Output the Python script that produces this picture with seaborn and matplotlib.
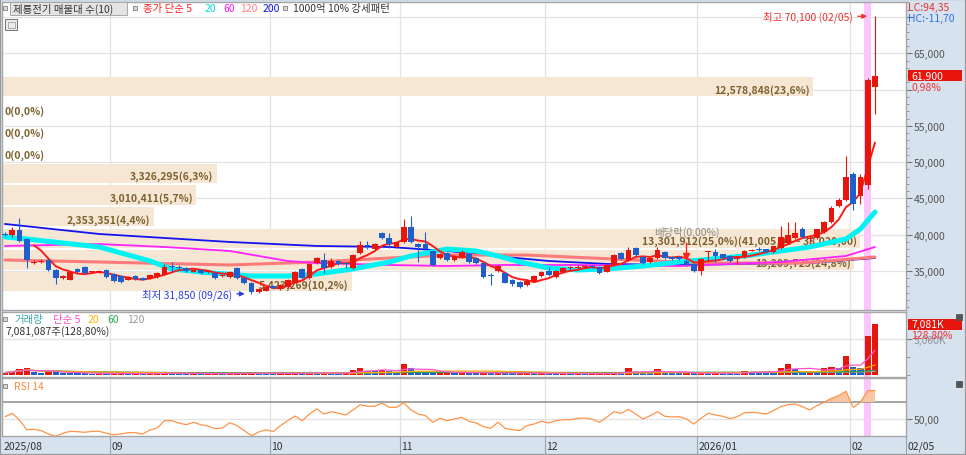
import numpy as np
import pandas as pd
import matplotlib
matplotlib.use('Agg')
import matplotlib.pyplot as plt
import seaborn as sns
from matplotlib.patches import Rectangle
from matplotlib.ticker import MultipleLocator

sns.set_theme(style="white")
plt.rcParams['font.family'] = ['Noto Sans CJK KR', 'DejaVu Sans']
plt.rcParams['axes.unicode_minus'] = False

# ---------------- data ----------------
stock_name = '제룡전기'
first_month = '2025/08'
month_starts = [15, 37, 55, 75, 96, 117]
month_labels = ['09', '10', '11', '12', '2026/01', '02']
last_date = '02/05'
low_date = '09/26'
div_idx = 94          # 배당락 day

opens = [40100, 39900, 40700, 39400, 36150, 36200, 36500, 35150, 34100, 33800,
         35250, 35550, 34800, 34850, 35150, 34600, 34300, 33750, 34300, 34100,
         34050, 34200, 34450, 35600, 35500, 35400, 34900, 35150, 34800, 34750,
         34250, 34200, 35400, 34050, 33400, 32150, 32300, 33000, 32550, 32800,
         33350, 35250, 34050, 36100, 36500, 35550, 36350, 36000, 35400, 37450,
         38500, 38000, 40200, 39500, 38300, 38950, 41050, 38700, 38700, 37750,
         36800, 37450, 36500, 36900, 37350, 36800, 36100, 34400, 35000, 34750,
         33750, 33500, 33100, 33650, 34300, 35000, 34200, 34850, 35350, 35450,
         35550, 35650, 35550, 34850, 35800, 37450, 36500, 38150, 36900, 36300,
         36800, 37600, 36900, 36900, 36400, 35950, 35000, 37550, 37600, 37300,
         37050, 36700, 36900, 37800, 38000, 38000, 37600, 38150, 38850, 39500,
         40750, 39350, 39500, 40350, 41700, 43900, 44750, 48400, 45400, 46800,
         60400]
highs = [40400, 41000, 42250, 39600, 36500, 36700, 36600, 35300, 34400, 35000,
         35400, 35700, 35050, 35100, 35250, 34700, 34450, 34300, 34500, 34200,
         34550, 34800, 35950, 36200, 35800, 35600, 35300, 35250, 35000, 34850,
         34500, 35000, 35600, 34100, 33500, 32700, 33000, 33100, 33200, 33900,
         35000, 35400, 36100, 36900, 37450, 36800, 36500, 36200, 37300, 39200,
         39200, 38850, 40350, 40200, 39100, 42100, 42550, 38850, 40350, 37900,
         37500, 37600, 37200, 37900, 37500, 36900, 36200, 34750, 35800, 34850,
         33900, 33600, 33750, 34450, 35000, 35500, 35100, 35500, 35700, 35800,
         35800, 35800, 35650, 35950, 37300, 37600, 38300, 38300, 37000, 36900,
         38300, 37700, 37000, 37000, 37650, 36050, 36750, 37700, 38000, 37400,
         37150, 36900, 37850, 38050, 38300, 38100, 38500, 41150, 41700, 41700,
         41000, 39800, 40850, 41850, 43900, 45000, 50900, 48700, 48300, 61600,
         70100]
lows = [39800, 39700, 39000, 35400, 36000, 36050, 35000, 33200, 33900, 33700,
        34700, 34600, 34700, 34750, 34100, 33500, 33300, 33700, 33800, 33700,
        33950, 34100, 34400, 34900, 35100, 34900, 34800, 34650, 34700, 33950,
        34150, 34100, 33950, 33200, 31850, 32000, 32200, 32500, 32400, 32700,
        33300, 33900, 33950, 36000, 34750, 35450, 35850, 35400, 35300, 37400,
        38000, 37900, 39400, 38150, 38200, 38900, 38900, 36300, 38000, 35700,
        36700, 36400, 36400, 36800, 36100, 35900, 34100, 33100, 34900, 33300,
        32900, 32700, 32950, 33550, 34200, 34350, 34100, 34750, 35200, 35300,
        35400, 35400, 34650, 34800, 35700, 36500, 36400, 37100, 35950, 36100,
        36700, 36650, 36500, 36550, 35750, 34800, 34500, 36500, 36300, 36700,
        36250, 35900, 36850, 37700, 37800, 37500, 37500, 38050, 38700, 39400,
        39500, 38900, 39400, 40200, 41600, 43800, 44600, 43350, 44300, 46300,
        56700]
closes = [40000, 40700, 39200, 36500, 36300, 36300, 35150, 34050, 34250, 34900,
          34850, 34750, 34900, 34950, 34200, 33650, 33500, 34200, 33900, 33800,
          34450, 34750, 35550, 35500, 35400, 35000, 35150, 34750, 34900, 34050,
          34350, 34850, 34050, 33350, 32050, 32550, 32800, 32700, 33100, 33750,
          34850, 34050, 35950, 36800, 35400, 36350, 35950, 35900, 37200, 38550,
          38400, 38700, 39500, 38700, 38950, 41050, 38950, 38300, 38100, 35800,
          37350, 36500, 37050, 37600, 36250, 36100, 34200, 34300, 35700, 33350,
          33200, 32800, 33650, 34300, 34850, 34450, 35000, 35400, 35450, 35550,
          35650, 35600, 34750, 35800, 37200, 36650, 37900, 37200, 36100, 36800,
          37900, 36800, 36650, 36700, 35850, 35000, 36650, 37650, 37050, 36800,
          36350, 36800, 37750, 37900, 37950, 37600, 38400, 39650, 39900, 40200,
          39650, 39450, 40750, 41700, 43750, 44850, 48000, 44300, 48000, 61300,
          61900]
volumes = [320000, 590000, 820000, 1040000, 360000, 320000, 590000, 360000, 320000, 270000,
           270000, 230000, 200000, 230000, 200000, 220000, 250000, 200000, 210000, 190000,
           230000, 250000, 300000, 260000, 220000, 200000, 210000, 190000, 200000, 220000,
           180000, 210000, 230000, 250000, 320000, 240000, 220000, 200000, 210000, 230000,
           280000, 250000, 320000, 280000, 300000, 260000, 230000, 250000, 680000, 1000000,
           590000, 540000, 730000, 590000, 450000, 1500000, 1000000, 540000, 450000, 360000,
           400000, 420000, 300000, 330000, 300000, 280000, 300000, 280000, 320000, 270000,
           250000, 260000, 280000, 230000, 260000, 240000, 220000, 230000, 200000, 210000,
           190000, 200000, 220000, 230000, 300000, 280000, 950000, 350000, 330000, 300000,
           820000, 420000, 330000, 250000, 260000, 240000, 270000, 250000, 300000, 240000,
           220000, 200000, 590000, 450000, 440000, 430000, 360000, 1040000, 1600000, 820000,
           590000, 600000, 540000, 1040000, 1060000, 1040000, 2630000, 1180000, 950000, 5497700,
           7081087]
rsi14 = [52.7, 56.7, 48.8, 37.4, 37.8, 36.3, 32.4, 29.6, 33.2, 35.5,
         35.1, 34.3, 35.5, 35.5, 33.2, 31.5, 32.4, 33.9, 33.9, 32.4,
         37.1, 39.4, 48.0, 48.0, 45.3, 43.3, 46.1, 43.3, 41.8, 38.6,
         39.4, 45.7, 42.2, 36.3, 30.4, 34.7, 37.4, 35.1, 42.2, 48.0,
         53.5, 48.0, 55.9, 61.8, 55.9, 58.6, 56.7, 54.7, 60.6, 66.8,
         64.9, 64.9, 68.8, 63.7, 63.7, 69.2, 60.6, 55.9, 53.9, 46.1,
         50.8, 48.0, 50.0, 52.0, 47.3, 45.3, 41.0, 39.0, 46.1, 39.0,
         37.4, 36.3, 42.2, 44.1, 47.3, 45.3, 48.0, 49.2, 49.2, 50.8,
         51.2, 49.6, 46.1, 52.0, 58.6, 56.7, 61.4, 55.9, 50.0, 53.9,
         58.6, 53.2, 52.4, 52.7, 50.0, 44.1, 50.8, 56.7, 54.7, 53.2,
         50.4, 52.7, 57.4, 57.8, 57.0, 55.9, 59.8, 64.5, 66.8, 67.6,
         64.5, 60.6, 65.6, 69.6, 74.3, 77.4, 82.6, 63.7, 69.6, 83.3,
         83.3]

# long moving averages (history starts before the chart window)
ma20_idx = [0, 3, 13, 20, 23, 27, 34, 39, 43, 48, 53, 56, 61, 65, 68, 71, 75, 79, 83, 88, 93, 102, 111, 116, 118, 120]
ma20_val = [39685, 39410, 38310, 36380, 35280, 34860, 34310, 34310, 34590, 35280, 36240, 37070, 38030,
            37760, 37070, 36240, 35410, 35140, 35280, 35690, 36240, 37070, 38310, 39410, 40790, 43130]
ma60_idx = [0, 13, 22, 31, 39, 43, 53, 61, 69, 78, 93, 107, 116, 120]
ma60_val = [38445, 38720, 38310, 37760, 36380, 36100, 35830, 35690, 35830, 35830, 35690, 36240, 37070, 38310]
ma120_idx = [0, 13, 31, 43, 53, 61, 72, 84, 96, 110, 120]
ma120_val = [36520, 36240, 35830, 36240, 36790, 37200, 37200, 36650, 36100, 36100, 36930]
ma200_idx = [0, 13, 31, 43, 53, 61, 69, 75, 83, 93, 111, 120]
ma200_val = [41480, 40100, 39000, 38450, 38310, 37760, 36930, 36380, 35970, 35830, 36100, 36790]

# 매물대 (volume by price, 10 bands from lowest to highest close)
profile_vol = [5423269, 13209725, 13301912, 2353351, 3010411, 3326295, 0, 0, 0, 12578848]

# ---------------- styling ----------------
RED, BLUE = '#e8150c', '#1e5fcc'
PANEL = '#d7e2ef'
GRID = '#e3e3e3'
EDGE = '#a6a6a6'
W, H = 966, 456
XL, XR = -0.41, 124.28

df = pd.DataFrame({'open': opens, 'high': highs, 'low': lows, 'close': closes,
                   'vol': volumes, 'rsi': rsi14})
df['i'] = np.arange(len(df))

fig = plt.figure(figsize=(W / 100, H / 100), dpi=100, facecolor=PANEL)


def box(x0, y0, x1, y1):
    return [x0 / W, 1 - y1 / H, (x1 - x0) / W, (y1 - y0) / H]


def ftext(x, y, s, **kw):
    kw.setdefault('fontsize', 7.5)
    fig.text(x / W, 1 - y / H, s, va='center', ha=kw.pop('ha', 'left'), **kw)


def icon(x, y, fc='#d8d8d8', ec='#808080', s=4):
    fig.add_artist(Rectangle(((x - s / 2) / W, 1 - (y + s / 2) / H), s / W, s / H,
                             transform=fig.transFigure, fc=fc, ec=ec, lw=0.6, zorder=8))


ax_p = fig.add_axes(box(2, 3, 906, 311))
ax_v = fig.add_axes(box(2, 312.5, 906, 378))
ax_r = fig.add_axes(box(2, 379, 906, 437))

for ax in (ax_p, ax_v, ax_r):
    ax.set_facecolor('white')
    ax.set_xlim(XL, XR)
    ax.set_xticks([])
    for sp in ax.spines.values():
        sp.set_color(EDGE)
        sp.set_linewidth(1)
    for m in month_starts:
        ax.axvline(m - 0.5, color=GRID, lw=0.9, zorder=0.3)
    ax.axvspan(118.5, 119.5, color='#fbc6fb', lw=0, zorder=0.6)
    ax.yaxis.tick_right()

# ---------------- price pane ----------------
ax_p.set_ylim(29626, 72068)
for v in range(35000, 70001, 5000):
    ax_p.axhline(v, color=GRID, lw=0.9, zorder=0.3)

lo_c, hi_c = min(closes), max(closes)
step = (hi_c - lo_c) / len(profile_vol)
vmax = max(profile_vol)
tot = sum(profile_vol)
span = XR - XL
for k, pv in enumerate(profile_vol):
    yc = lo_c + (k + 0.5) * step
    w = pv / vmax * 0.949 * span
    if pv > 0:
        ax_p.barh(yc, w, left=XL, height=step * 0.9, color='#f6e7d4', lw=0, zorder=1)
    label = f'{pv:,}' + f'({pv / tot * 100:.1f}%)'.replace('.', ',')
    if pv == vmax:
        rng = f'({lo_c + (k + 1) * step:,.2f} ~ {lo_c + k * step:,.2f})'
        label += rng.replace('.', ',')
    if pv > 0:
        xpos, ha = XL + w - 0.45, 'right'
    else:
        xpos, ha = XL + 0.35, 'left'
    ax_p.annotate(label, xy=(xpos, yc), xytext=(0, -1.8), textcoords='offset points',
                  ha=ha, va='center', fontsize=7.5, fontweight='bold', color='#7d6230',
                  zorder=2)

# moving averages
sns.lineplot(x=ma200_idx, y=ma200_val, ax=ax_p, color='#1414f0', linewidth=1.3, zorder=3)
sns.lineplot(x=ma120_idx, y=ma120_val, ax=ax_p, color='#ff7a7a', linewidth=2.2, zorder=3)
sns.lineplot(x=ma60_idx, y=ma60_val, ax=ax_p, color='#ff22ff', linewidth=1.3, zorder=3)
sns.lineplot(x=ma20_idx, y=ma20_val, ax=ax_p, color='#00f2f2', linewidth=3.6, zorder=3)
ma5 = df['close'].rolling(5).mean()
ok = ma5.notna()
sns.lineplot(x=df['i'][ok], y=ma5[ok], ax=ax_p, color='#ff1a1a', linewidth=1.4, zorder=3.5)

# candles
up = df['close'] >= df['open']
ccol = np.where(up, RED, BLUE)
ax_p.vlines(df['i'], df['low'], df['high'], colors=ccol, lw=0.8, zorder=4)
body_lo = np.minimum(df['open'], df['close'])
body_h = np.maximum((df['close'] - df['open']).abs(), 140)
ax_p.bar(df['i'], body_h, bottom=body_lo, width=0.8, color=ccol, lw=0, zorder=5)

# ex-dividend marker
ax_p.vlines(div_idx, 37100, 38950, colors='#ff2020', lw=0.9, zorder=6)
ax_p.plot([div_idx], [37100], marker='v', ms=5, color='#ff2020', zorder=6)
ax_p.text(div_idx, 40500, '배당락(0,00%)', ha='center', va='center', fontsize=7.5,
          color='#8a8a8a', zorder=2.5)

# high / low annotations
hi_i = int(np.argmax(highs))
lo_i = int(np.argmin(lows))
hi_v, lo_v = max(highs), min(lows)
ax_p.annotate('', xy=(hi_i - 0.7, hi_v), xytext=(hi_i - 2.75, hi_v),
              arrowprops=dict(arrowstyle='-|>', color='#f03030', lw=0.9, mutation_scale=7), zorder=7)
ax_p.text(hi_i - 3.05, hi_v, f'최고 {hi_v:,} ({last_date})', ha='right', va='center',
          fontsize=7.5, color='#f03030', zorder=7)
ax_p.annotate('', xy=(lo_i - 0.55, lo_v), xytext=(lo_i - 2.4, lo_v),
              arrowprops=dict(arrowstyle='-|>', color='#2a3ce0', lw=0.9, mutation_scale=7), zorder=7)
ax_p.text(lo_i - 2.6, lo_v, f'최저 {lo_v:,} ({low_date})', ha='right', va='center',
          fontsize=7.5, color='#2a3ce0', zorder=7)

# right axis
ticks = list(range(35000, 70001, 5000))
ax_p.set_yticks(ticks)
ax_p.set_yticklabels([f'{v:,}' if v not in (60000, 70000) else '' for v in ticks])
ax_p.yaxis.set_minor_locator(MultipleLocator(1000))
ax_p.tick_params(axis='y', which='major', right=True, length=4, width=0.8, color='#777777',
                 labelsize=7.5, labelcolor='#555555', pad=1.5)
ax_p.tick_params(axis='y', which='minor', right=True, length=2, width=0.6, color='#888888')
ax_p.set_xlabel('')
ax_p.set_ylabel('')

last_c, prev_c = closes[-1], closes[-2]
ytr = ax_p.get_yaxis_transform()
ax_p.add_patch(Rectangle((1.0022, last_c - 760), 0.0597, 1520, transform=ytr,
                         fc=RED, ec='none', clip_on=False, zorder=6))
ax_p.text(1.006, last_c, f'{last_c:,}', transform=ytr, color='white', fontsize=7.5,
          ha='left', va='center', zorder=7, clip_on=False)
ax_p.annotate(f'{(last_c / prev_c - 1) * 100:.2f}%'.replace('.', ','), xy=(1.006, last_c),
              xycoords=ytr, xytext=(0, -8), textcoords='offset points', color='#f03030',
              fontsize=7.5, ha='left', va='center', annotation_clip=False, zorder=7)
lc = (last_c / lo_v - 1) * 100
hc = (last_c / hi_v - 1) * 100
ftext(908, 8, f'LC:{lc:.2f}'.replace('.', ','), color='#e83030')
ftext(908, 19, f'HC:{hc:.2f}'.replace('.', ','), color='#2f6fe0')

# ---------------- volume pane ----------------
ax_v.set_ylim(-280000, 8880000)
ax_v.axhline(5000000, color=GRID, lw=0.9, zorder=0.3)
vup = df['vol'] > df['vol'].shift(1).fillna(0)
vcol = np.where(vup, RED, BLUE)
ax_v.bar(df['i'], df['vol'], width=0.86, color=vcol, lw=0, zorder=2)
for win, col in [(120, '#a8a8a8'), (60, '#2fa050'), (20, '#ffaa00'), (5, '#ff55cc')]:
    sns.lineplot(x=df['i'], y=df['vol'].rolling(win, min_periods=1).mean(), ax=ax_v,
                 color=col, linewidth=0.9, zorder=3)
ax_v.set_yticks([5000000])
ax_v.set_yticklabels(['5,000K'])
ax_v.yaxis.set_minor_locator(MultipleLocator(2500000))
ax_v.tick_params(axis='y', which='major', right=True, length=4, width=0.8, color='#777777',
                 labelsize=7.5, labelcolor='#8a93a0', pad=1.5)
ax_v.tick_params(axis='y', which='minor', right=True, length=3, width=0.6, color='#888888')
ax_v.set_xlabel('')
ax_v.set_ylabel('')
last_v, prev_v = volumes[-1], volumes[-2]
vtr = ax_v.get_yaxis_transform()
ax_v.add_patch(Rectangle((1.0022, last_v - 762000), 0.0597, 1525000, transform=vtr,
                         fc=RED, ec='none', clip_on=False, zorder=6))
ax_v.text(1.006, last_v, f'{last_v / 1000:,.0f}K', transform=vtr, color='white', fontsize=7.5,
          ha='left', va='center', zorder=7, clip_on=False)
ax_v.annotate(f'{last_v / prev_v * 100:.2f}%'.replace('.', ','), xy=(1.006, last_v),
              xycoords=vtr, xytext=(0, -8), textcoords='offset points', color='#f03030',
              fontsize=7.5, ha='left', va='center', annotation_clip=False, zorder=7)

# ---------------- RSI pane ----------------
ax_r.set_ylim(30, 98.2)
ax_r.axhline(50, color=GRID, lw=0.9, zorder=0.3)
ax_r.axhline(70, color='#8c8c8c', lw=1.1, zorder=1)
rs = df['rsi'].to_numpy()
ax_r.fill_between(df['i'], rs, 70, where=rs >= 70, interpolate=True, color='#f8c6a2', lw=0, zorder=2)
sns.lineplot(x=df['i'], y=df['rsi'], ax=ax_r, color='#ff9448', linewidth=0.9, zorder=3)
ax_r.set_yticks([50])
ax_r.set_yticklabels(['50,00'])
ax_r.tick_params(axis='y', which='major', right=True, length=4, width=0.8, color='#777777',
                 labelsize=7.5, labelcolor='#555555', pad=1.5)
ax_r.set_xlabel('')
ax_r.set_ylabel('')

# date strip
xtr = ax_r.get_xaxis_transform()
ax_r.vlines([m - 0.5 for m in month_starts] + [XR], 0, -19 / 58, transform=xtr,
            colors='#9aa4b0', lw=0.8, clip_on=False)
ax_r.text(XL + 0.15, -10 / 58, first_month, transform=xtr, fontsize=7.5, color='#333333',
          ha='left', va='center', clip_on=False)
for m, lab in zip(month_starts, month_labels):
    ax_r.text(m - 0.3, -10 / 58, lab, transform=xtr, fontsize=7.5, color='#333333',
              ha='left', va='center', clip_on=False)
ftext(908, 447, last_date, color='#333333')

# ---------------- headers ----------------
icon(5, 9)
fig.add_artist(Rectangle((10 / W, 1 - 15.5 / H), 117 / W, 12.5 / H, transform=fig.transFigure,
                         fc='#e4e4e4', ec='#a8a8a8', lw=0.7, zorder=7))
ftext(13, 9, f'{stock_name} 매물대 수(10)', color='#333333', zorder=9)
icon(135, 9)
ftext(143, 9, '종가 단순 5', color='#ff2020')
ftext(205, 9, '20', color='#00dede')
ftext(223, 9, '60', color='#ff10ff')
ftext(240, 9, '120', color='#ff7f7f')
ftext(263, 9, '200', color='#1414f0')
icon(285, 9)
ftext(293, 9, '1000억 10% 강세패턴', color='#333333')
fig.add_artist(Rectangle((5 / W, 1 - 31 / H), 12 / W, 11 / H, transform=fig.transFigure,
                         fc='#ececec', ec='#707070', lw=0.7, zorder=8))
fig.add_artist(Rectangle((7.5 / W, 1 - 28.5 / H), 7 / W, 6 / H, transform=fig.transFigure,
                         fc='none', ec='#909090', lw=0.5, zorder=8))

icon(5, 320)
ftext(14, 320, '거래량', color='#3aa6a6')
ftext(53, 320, '단순 5', color='#ff50c8')
ftext(88, 320, '20', color='#ffb000')
ftext(107, 320, '60', color='#30a050')
ftext(127, 320, '120', color='#999999')
ftext(5, 332, f'{volumes[-1]:,}주({volumes[-1] / volumes[-2] * 100:.2f}%)'.replace('.', ','),
      color='#333333')
icon(5, 387)
ftext(14, 387, 'RSI 14', color='#ff8a3d')
icon(958.5, 318, fc='#555555', ec='#555555', s=6)
icon(958.5, 385, fc='#555555', ec='#555555', s=6)

fig.add_artist(Rectangle((0, 0), 1, 1, transform=fig.transFigure, fill=False,
                         ec='#9a9a9a', lw=1.6, zorder=10))

fig.savefig('out.png', dpi=100, facecolor=fig.get_facecolor())
